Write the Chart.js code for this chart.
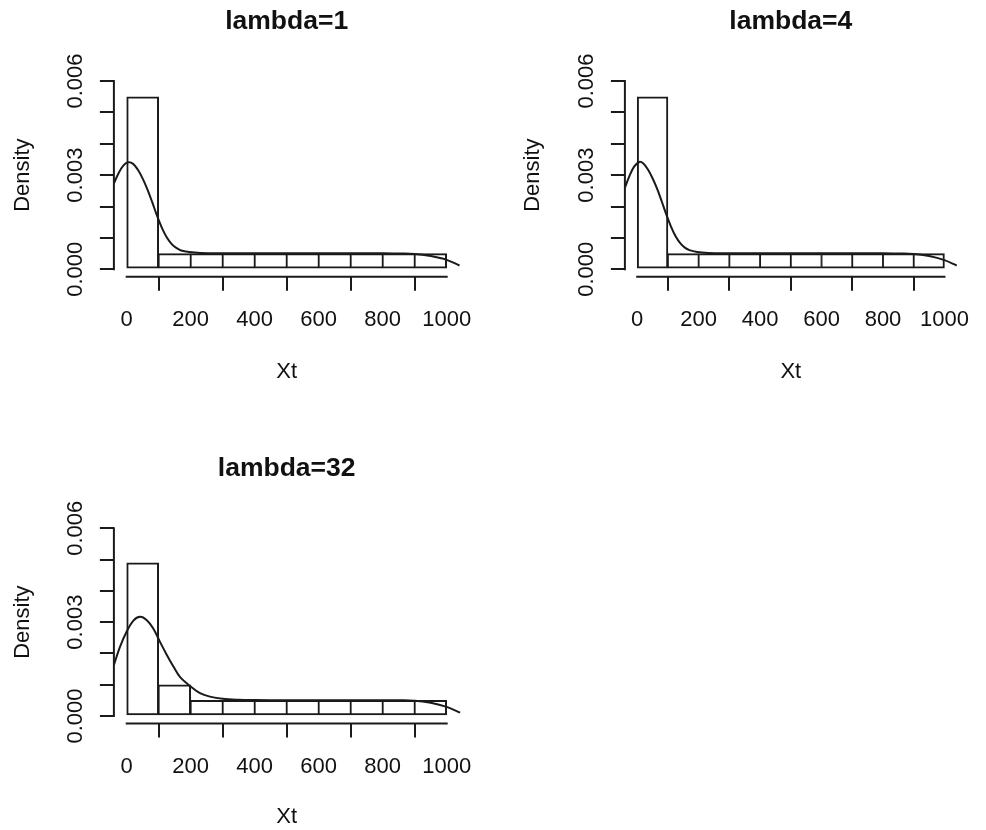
<!DOCTYPE html>
<html>
<head>
<meta charset="utf-8">
<script src="https://cdn.jsdelivr.net/npm/chart.js@4.4.1/dist/chart.umd.min.js"></script>
<style>
  html, body { margin: 0; padding: 0; background: #fff; }
  body { width: 986px; height: 830px; position: relative; overflow: hidden; }
  .panel { position: absolute; }
</style>
</head>
<body>
<div class="panel" style="left:0px;top:0px;"><canvas id="c1" width="493" height="415"></canvas></div>
<div class="panel" style="left:493px;top:0px;"><canvas id="c2" width="493" height="415"></canvas></div>
<div class="panel" style="left:0px;top:415px;"><canvas id="c3" width="493" height="415"></canvas></div>
<script>
// ---------------- data ----------------
const titles = ['lambda=1', 'lambda=4', 'lambda=32'];
const xAxisTitle = 'Xt';
const yAxisTitle = 'Density';
const binMids = [50, 150, 250, 350, 450, 550, 650, 750, 850, 950];
const density1 = [0.0055, 0.0005, 0.0005, 0.0005, 0.0005, 0.0005, 0.0005, 0.0005, 0.0005, 0.0005];
const density2 = [0.0055, 0.0005, 0.0005, 0.0005, 0.0005, 0.0005, 0.0005, 0.0005, 0.0005, 0.0005];
const density3 = [0.0049, 0.0010, 0.0005, 0.0005, 0.0005, 0.0005, 0.0005, 0.0005, 0.0005, 0.0005];

const curveX1 = [-40, -25, -10, 5, 20, 35, 50, 65, 80, 95, 110, 125, 140, 155, 170, 195, 230, 300, 400, 500, 600, 700, 800, 850, 900, 950, 1000, 1040];
const curveY1 = [0.00274, 0.00307, 0.00331, 0.00341, 0.00336, 0.00317, 0.00289, 0.00254, 0.00213, 0.00170, 0.00132, 0.00102, 0.00081, 0.00068, 0.00060, 0.00055, 0.00052, 0.00051, 0.00051, 0.00051, 0.00051, 0.00051, 0.00051, 0.00050, 0.00049, 0.00042, 0.00030, 0.00012];
const curveX2 = [-40, -25, -10, 7, 20, 35, 50, 65, 80, 95, 110, 125, 140, 155, 170, 195, 230, 300, 400, 500, 600, 700, 800, 850, 900, 950, 1000, 1040];
const curveY2 = [0.00260, 0.00298, 0.00327, 0.00342, 0.00337, 0.00318, 0.00290, 0.00256, 0.00216, 0.00174, 0.00136, 0.00105, 0.00083, 0.00069, 0.00061, 0.00055, 0.00052, 0.00051, 0.00051, 0.00051, 0.00051, 0.00051, 0.00051, 0.00050, 0.00049, 0.00042, 0.00029, 0.00012];
const curveX3 = [-40, -21, 0, 21, 42, 62, 83, 104, 125, 146, 167, 198, 229, 260, 300, 350, 400, 500, 600, 700, 800, 850, 900, 950, 1000, 1042];
const curveY3 = [0.00163, 0.00221, 0.00270, 0.00305, 0.00317, 0.00307, 0.00280, 0.00237, 0.00196, 0.00158, 0.00124, 0.00096, 0.00073, 0.00062, 0.00055, 0.00052, 0.00051, 0.00050, 0.00050, 0.00050, 0.00050, 0.00050, 0.00049, 0.00042, 0.00029, 0.00011];

const xTicks = [0, 200, 400, 600, 800, 1000];
const xTickLabels = ['0', '200', '400', '600', '800', '1000'];
const yTicks = [0, 0.001, 0.002, 0.003, 0.004, 0.005, 0.006];
const yTickLabels = ['0.000', '', '', '0.003', '', '', '0.006'];

// ---------------- styling ----------------
const FONT = 'Liberation Sans, Arial, Helvetica, sans-serif';
const INK = '#1a1a1a';
const TEXT = '#111';

const axisPlugin = {
  id: 'rAxes',
  afterDraw(chart) {
    const ctx = chart.ctx;
    const xs = chart.scales.x, ys = chart.scales.y;
    ctx.save();
    ctx.strokeStyle = INK;
    ctx.lineWidth = 2;
    ctx.lineCap = 'square';
    ctx.beginPath();
    ctx.moveTo(xs.getPixelForValue(xTicks[0]), xs.top);
    ctx.lineTo(xs.getPixelForValue(xTicks[xTicks.length - 1]), xs.top);
    ctx.stroke();
    ctx.beginPath();
    ctx.moveTo(ys.right, ys.getPixelForValue(yTicks[0]));
    ctx.lineTo(ys.right, ys.getPixelForValue(yTicks[yTicks.length - 1]));
    ctx.stroke();
    ctx.fillStyle = TEXT;
    ctx.font = '22px ' + FONT;
    ctx.textAlign = 'center';
    ctx.textBaseline = 'middle';
    yTicks.forEach((v, i) => {
      if (!yTickLabels[i]) return;
      ctx.save();
      ctx.translate(ys.right - 39, ys.getPixelForValue(v));
      ctx.rotate(-Math.PI / 2);
      ctx.fillText(yTickLabels[i], 0, 1);
      ctx.restore();
    });
    ctx.restore();
  }
};

function makePanel(id, title, mids, dens, cx, cy, g) {
  const bars = mids.map((m, i) => ({ x: m, y: dens[i] }));
  const curve = cx.map((x, i) => ({ x: x, y: cy[i] }));
  const n = bars.length;
  return new Chart(document.getElementById(id), {
    type: 'bar',
    data: {
      datasets: [
        {
          type: 'line', data: curve, borderColor: INK, borderWidth: 2,
          pointRadius: 0, fill: false, tension: 0.35, order: 0, clip: false
        },
        {
          type: 'bar', data: bars, backgroundColor: '#ffffff', borderColor: INK,
          borderWidth: ctx => {
            const i = ctx.dataIndex;
            return {
              top: 2, bottom: 2,
              left: (i === 0 || dens[i - 1] < dens[i]) ? 2 : 1.25,
              right: (i === n - 1 || dens[i + 1] < dens[i]) ? 2 : 1.25
            };
          },
          borderSkipped: false,
          barPercentage: 1, categoryPercentage: 1, order: 1
        }
      ]
    },
    options: {
      responsive: false,
      animation: false,
      devicePixelRatio: 1,
      layout: { autoPadding: false, padding: { left: 0, right: g.padRight, top: 0, bottom: 0 } },
      plugins: {
        legend: { display: false },
        tooltip: { enabled: false },
        title: {
          display: true, text: title, fullSize: false, color: TEXT,
          font: { family: FONT, size: 26.5, weight: 'bold' },
          padding: { top: g.titleTop, bottom: g.titleBottom }
        }
      },
      scales: {
        x: {
          type: 'linear', position: 'bottom', min: -40, max: 1040, offset: false,
          grid: { drawOnChartArea: false, drawTicks: true, tickLength: 14, color: INK, lineWidth: 2 },
          border: { display: false },
          ticks: {
            font: { family: FONT, size: 22 }, color: TEXT, padding: 16, maxRotation: 0, minRotation: 0, autoSkip: false,
            callback: (v) => { const i = xTicks.indexOf(v); return i >= 0 ? xTickLabels[i] : ''; }
          },
          afterBuildTicks: s => { s.ticks = xTicks.map(v => ({ value: v })); },
          afterFit: s => { s.height = g.xH; },
          title: { display: true, text: xAxisTitle, color: TEXT, font: { family: FONT, size: 22 }, padding: { top: 0, bottom: g.xtPad } }
        },
        y: {
          type: 'linear', position: 'left', min: -0.00024, max: 0.00624,
          grid: { drawOnChartArea: false, drawTicks: true, tickLength: 14, color: INK, lineWidth: 2 },
          border: { display: false },
          ticks: { display: false },
          afterBuildTicks: s => { s.ticks = yTicks.map(v => ({ value: v })); },
          afterFit: s => { s.width = g.yW; },
          title: { display: true, text: yAxisTitle, color: TEXT, font: { family: FONT, size: 22 }, padding: { top: g.ytPad, bottom: 0 } }
        }
      }
    },
    plugins: [axisPlugin]
  });
}

makePanel('c1', titles[0], binMids, density1, curveX1, curveY1,
  { padRight: 33.5, titleTop: 5.8, titleBottom: 35.9, xH: 138.2, xtPad: 30.1, yW: 113.9, ytPad: 9.5 });
makePanel('c2', titles[1], binMids, density2, curveX2, curveY2,
  { padRight: 15.5, titleTop: 5.8, titleBottom: 35.9, xH: 138.2, xtPad: 30.1, yW: 131.9, ytPad: 27.1 });
makePanel('c3', titles[2], binMids, density3, curveX3, curveY3,
  { padRight: 33.5, titleTop: 37.4, titleBottom: 36.6, xH: 106.5, xtPad: 0, yW: 113.9, ytPad: 9.5 });
</script>
</body>
</html>
